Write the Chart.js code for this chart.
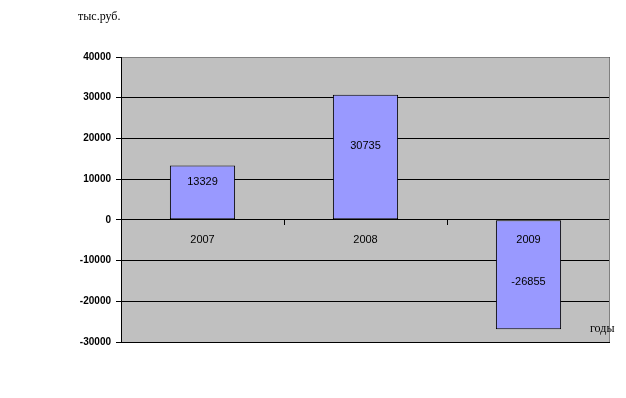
<!DOCTYPE html>
<html>
<head>
<meta charset="utf-8">
<script src="https://cdn.jsdelivr.net/npm/chart.js@4/dist/chart.umd.min.js"></script>
<style>
  html, body { margin: 0; padding: 0; background: #fff; }
  #wrap { width: 626px; height: 398px; }
</style>
</head>
<body>
<div id="wrap"><canvas id="myChart" width="626" height="398"></canvas></div>
<script>
// данные графика
var years = ['2007', '2008', '2009'];
var values = [13329, 30735, -26855];
var yTicks = [40000, 30000, 20000, 10000, 0, -10000, -20000, -30000];

// фон области построения, подписи годов и значений
var extras = {
    id: 'extras',
    beforeDraw: function (chart) {
        var a = chart.chartArea, c = chart.ctx;
        c.save();
        c.fillStyle = '#C0C0C0';
        c.fillRect(a.left, a.top, a.right - a.left, a.bottom - a.top);
        c.restore();
    },
    afterDatasetsDraw: function (chart) {
        var a = chart.chartArea, c = chart.ctx;
        var x = chart.scales.x, y = chart.scales.y;
        var y0 = Math.round(y.getPixelForValue(0));
        c.save();
        // рамка сверху и справа
        c.strokeStyle = '#808080';
        c.lineWidth = 1;
        c.beginPath();
        c.moveTo(a.left, a.top + 0.5);
        c.lineTo(a.right - 0.5, a.top + 0.5);
        c.lineTo(a.right - 0.5, a.bottom);
        c.stroke();
        // засечки на оси X
        c.strokeStyle = '#000';
        c.beginPath();
        for (var i = 1; i < years.length; i++) {
            var bx = Math.round((x.getPixelForValue(i - 1) + x.getPixelForValue(i)) / 2) + 0.5;
            c.moveTo(bx, y0);
            c.lineTo(bx, y0 + 5);
        }
        c.stroke();
        // ось Y
        c.beginPath();
        c.moveTo(a.left + 0.5, a.top);
        c.lineTo(a.left + 0.5, a.bottom);
        c.stroke();
        c.fillStyle = '#000';
        c.font = '11px "Liberation Sans", Arial, sans-serif';
        c.textAlign = 'center';
        c.textBaseline = 'middle';
        years.forEach(function (yr, i) {
            c.fillText(yr, x.getPixelForValue(i), y0 + 20);
        });
        var meta = chart.getDatasetMeta(0);
        meta.data.forEach(function (bar, i) {
            var my = (bar.y + bar.base) / 2;
            my += values[i] > 0 ? -11 : 7;
            c.fillText(values[i], bar.x, my);
        });
        // подписи осей
        c.font = '12px "Liberation Serif", "Times New Roman", serif';
        c.textAlign = 'left';
        c.fillText('тыс.руб.', 78, 17);
        c.fillText('годы', 590, 329);
        c.restore();
    }
};

var ctx = document.getElementById('myChart').getContext('2d');
var myChart = new Chart(ctx, {
    type: 'bar',
    data: {
        labels: years,
        datasets: [{
            data: values,
            backgroundColor: '#9999FF',
            borderColor: '#000000',
            borderWidth: 1,
            borderSkipped: false,
            categoryPercentage: 1,
            barPercentage: 0.4
        }]
    },
    options: {
        responsive: false,
        animation: false,
        layout: { padding: { left: 0, top: 57, right: 16, bottom: 56 } },
        plugins: { legend: { display: false }, tooltip: { enabled: false } },
        scales: {
            x: { display: false },
            y: {
                min: -30000,
                max: 40000,
                afterFit: function (s) { s.width = 121; },
                afterBuildTicks: function (s) {
                    s.ticks = yTicks.slice().reverse().map(function (v) { return { value: v }; });
                },
                border: { display: false },
                grid: {
                    color: '#000',
                    lineWidth: 1,
                    tickLength: 5
                },
                ticks: {
                    color: '#000',
                    padding: 5,
                    callback: function (v) { return String(v); },
                    font: { family: '"Liberation Sans", Arial, sans-serif', size: 10, weight: 'bold' }
                }
            }
        }
    },
    plugins: [extras]
});
</script>
</body>
</html>
